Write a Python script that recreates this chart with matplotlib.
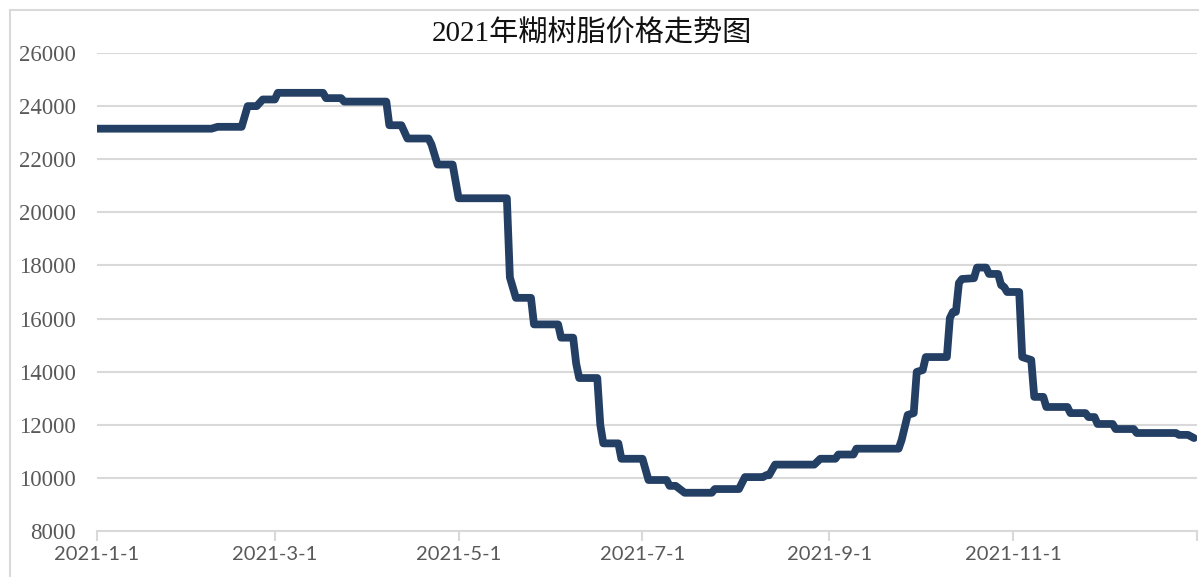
import matplotlib
matplotlib.use("Agg")
import matplotlib.pyplot as plt
from matplotlib.patches import Rectangle
import pandas as pd

# price change points of 2021 paste resin (yuan/ton)
dates = [
    "2021-01-01", "2021-02-08", "2021-02-10", "2021-02-18", "2021-02-20", "2021-02-23",
    "2021-02-25", "2021-03-01", "2021-03-02", "2021-03-17", "2021-03-18", "2021-03-23",
    "2021-03-24", "2021-04-07", "2021-04-08", "2021-04-12", "2021-04-14", "2021-04-21",
    "2021-04-22", "2021-04-24", "2021-04-29", "2021-05-01", "2021-05-17", "2021-05-18",
    "2021-05-20", "2021-05-25", "2021-05-26", "2021-06-03", "2021-06-04", "2021-06-08",
    "2021-06-09", "2021-06-10", "2021-06-16", "2021-06-17", "2021-06-18", "2021-06-23",
    "2021-06-24", "2021-07-01", "2021-07-03", "2021-07-09", "2021-07-10", "2021-07-12",
    "2021-07-15", "2021-07-24", "2021-07-25", "2021-08-02", "2021-08-04", "2021-08-10",
    "2021-08-11", "2021-08-12", "2021-08-14", "2021-08-27", "2021-08-29", "2021-09-03",
    "2021-09-04", "2021-09-09", "2021-09-10", "2021-09-24", "2021-09-25", "2021-09-27",
    "2021-09-29", "2021-09-30", "2021-10-02", "2021-10-03", "2021-10-10", "2021-10-11",
    "2021-10-12", "2021-10-13", "2021-10-14", "2021-10-15", "2021-10-19", "2021-10-20",
    "2021-10-23", "2021-10-24", "2021-10-27", "2021-10-28", "2021-10-29", "2021-10-30",
    "2021-11-03", "2021-11-04", "2021-11-07", "2021-11-08", "2021-11-11", "2021-11-12",
    "2021-11-19", "2021-11-20", "2021-11-25", "2021-11-26", "2021-11-28", "2021-11-29",
    "2021-12-04", "2021-12-05", "2021-12-11", "2021-12-12", "2021-12-25", "2021-12-26",
    "2021-12-29", "2021-12-31",
]
prices = [
    23150, 23150, 23220, 23220, 24000, 24000,
    24250, 24250, 24500, 24500, 24300, 24300,
    24170, 24170, 23280, 23280, 22780, 22780,
    22550, 21800, 21800, 20530, 20530, 17550,
    16780, 16780, 15780, 15780, 15280, 15280,
    14300, 13760, 13760, 12000, 11300, 11300,
    10720, 10720, 9920, 9920, 9700, 9700,
    9440, 9440, 9580, 9580, 10030, 10030,
    10100, 10100, 10500, 10500, 10720, 10720,
    10880, 10880, 11100, 11100, 11430, 12370,
    12440, 13990, 14060, 14550, 14550, 16020,
    16250, 16250, 17340, 17490, 17520, 17920,
    17920, 17680, 17680, 17260, 17190, 17000,
    17000, 14550, 14440, 13050, 13050, 12670,
    12670, 12440, 12440, 12290, 12290, 12030,
    12030, 11840, 11840, 11690, 11690, 11620,
    11620, 11500,
]
tick_dates = ["2021-01-01", "2021-03-01", "2021-05-01", "2021-07-01",
              "2021-09-01", "2021-11-01", "2022-01-01"]
tick_labels = ["2021-1-1", "2021-3-1", "2021-5-1", "2021-7-1", "2021-9-1", "2021-11-1", ""]
title = "2021年糊树脂价格走势图"

x = pd.to_datetime(dates)
grid_c = "#D9D9D9"
text_c = "#595959"

fig = plt.figure(figsize=(11.99, 5.77), dpi=100)
ax = fig.add_axes([97 / 1199, 1 - 531 / 577, 1100 / 1199, (531 - 53) / 577])

ax.plot(x, prices, color="#243F64", lw=5.6, solid_joinstyle="round", solid_capstyle="round")

ax.set_ylim(8000, 26000)
ax.set_yticks(range(8000, 26001, 2000))
ax.set_xlim(pd.Timestamp("2021-01-01"), pd.Timestamp("2022-01-01"))
ax.set_xticks(pd.to_datetime(tick_dates))
ax.set_xticklabels(tick_labels)

ax.grid(axis="y", color=grid_c, lw=1.5)
ax.set_axisbelow(True)
for s in ["top", "right", "left"]:
    ax.spines[s].set_visible(False)
ax.spines["bottom"].set_color(grid_c)
ax.spines["bottom"].set_linewidth(1.5)

ax.tick_params(axis="y", length=0, pad=15, labelcolor=text_c)
ax.tick_params(axis="x", length=7, width=1.5, color=grid_c, pad=4, labelcolor=text_c)
for lab in ax.get_yticklabels():
    lab.set_fontfamily("Liberation Serif")
    lab.set_fontsize(16.5)
for lab in ax.get_xticklabels():
    lab.set_fontfamily("Lato")
    lab.set_fontsize(14.5)

fig.text(592 / 1199, 1 - 34 / 577, title, ha="center", va="center", fontsize=21,
         family=["Liberation Serif", "Noto Sans CJK SC"], color="#111111")

# chart area frame (cropped at right and bottom)
fig.patches.append(Rectangle((10 / 1199, -0.1), 1.2, 1.1 - 10 / 577, transform=fig.transFigure,
                             fill=False, edgecolor=grid_c, lw=1.5))

fig.savefig("out.png", dpi=100)
